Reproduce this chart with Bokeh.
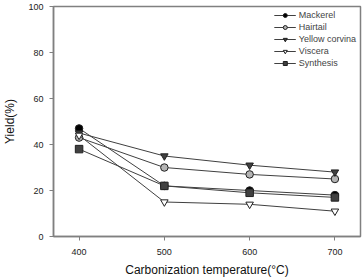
from bokeh.plotting import figure
from bokeh.embed import file_html
from bokeh.resources import INLINE
from bokeh.models import Range1d, FixedTicker, Legend, LegendItem

temps = [400, 500, 600, 700]
mackerel = [47, 22, 20, 18]
hairtail = [43, 30, 27, 25]
yellow_corvina = [45, 35, 31, 28]
viscera = [44, 15, 14, 11]
synthesis = [38, 22, 19, 17]

series = [
    ("Mackerel", mackerel, "circle", "#000000"),
    ("Hairtail", hairtail, "circle", "#b4b4b4"),
    ("Yellow corvina", yellow_corvina, "inverted_triangle", "#404040"),
    ("Viscera", viscera, "inverted_triangle", "#ffffff"),
    ("Synthesis", synthesis, "square", "#404040"),
]

FONT = "Liberation Sans"
p = figure(width=362, height=279, output_backend="svg", toolbar_location=None,
           x_range=Range1d(370, 730), y_range=Range1d(0, 100))
p.min_border_left = 3
p.min_border_right = 2
p.min_border_top = 6
p.min_border_bottom = 0
p.outline_line_color = "#808080"
p.outline_line_width = 1.5
p.grid.visible = False
p.background_fill_color = "white"

items = []
for name, vals, marker, fill in series:
    r1 = p.line(temps, vals, line_color="#404040", line_width=1)
    r2 = p.scatter(temps, vals, marker=marker, size=7.5, fill_color=fill,
                   line_color="#202020", line_width=1)
    items.append(LegendItem(label=name, renderers=[r1, r2]))

legend = Legend(items=items, location="top_right")
legend.border_line_color = None
legend.background_fill_alpha = 0
legend.label_text_font = FONT
legend.label_text_font_size = "9px"
legend.label_height = 8
legend.glyph_height = 10
legend.glyph_width = 22
legend.spacing = 2
legend.padding = 2
legend.margin = 4
legend.label_standoff = 3
p.add_layout(legend)

for ax in (p.xaxis[0], p.yaxis[0]):
    ax.axis_line_color = "#808080"
    ax.axis_line_width = 1.5
    ax.major_tick_line_color = "#808080"
    ax.major_tick_out = 4
    ax.major_tick_in = 0
    ax.minor_tick_line_color = None
    ax.major_label_text_font = FONT
    ax.major_label_text_font_size = "9px"
    ax.major_label_text_color = "#222222"
    ax.axis_label_text_font = FONT
    ax.axis_label_text_font_size = "12px"
    ax.axis_label_text_font_style = "normal"
    ax.axis_label_text_color = "#111111"

p.xaxis.ticker = FixedTicker(ticks=temps)
p.yaxis.ticker = FixedTicker(ticks=[0, 20, 40, 60, 80, 100])
p.xaxis.axis_label = "Carbonization temperature(\u00b0C)"
p.yaxis.axis_label = "Yield(%)"
p.xaxis.major_label_standoff = 8
p.yaxis.major_label_standoff = 6
p.xaxis.axis_label_standoff = 5
p.yaxis.axis_label_standoff = 8

open("out.html", "w").write(file_html(p, INLINE))
